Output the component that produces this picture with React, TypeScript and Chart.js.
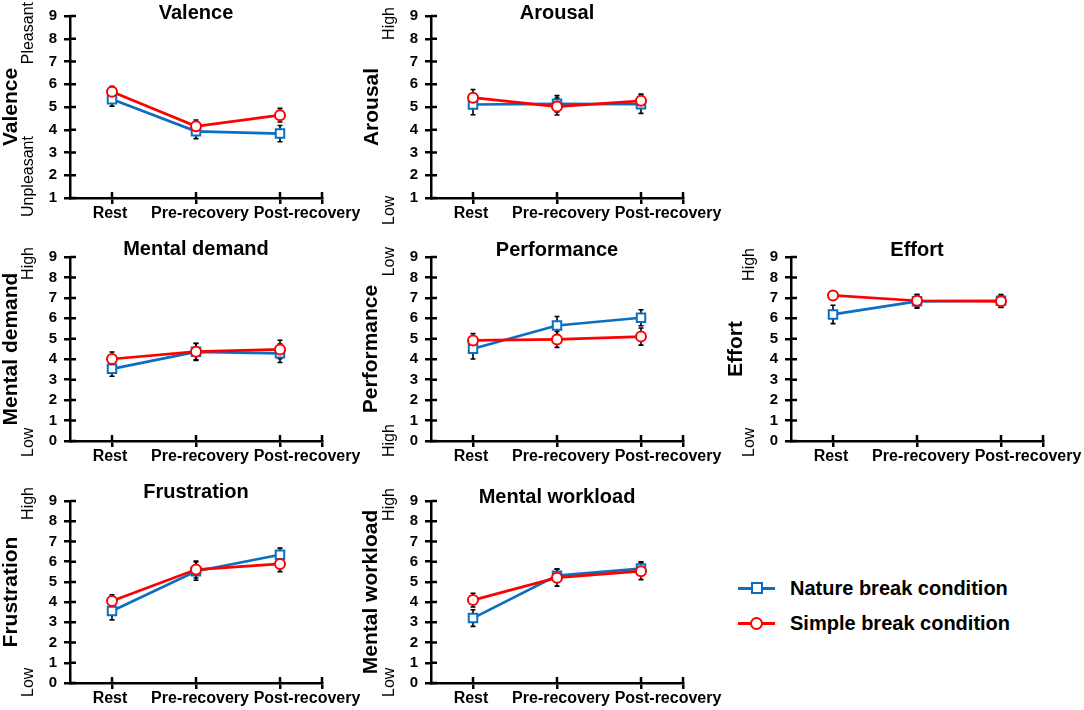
import React, { useEffect, useRef } from 'react';
import { Chart, registerables } from 'chart.js';

Chart.register(...registerables);

const FONT = '"Liberation Sans", Arial, sans-serif';
Chart.defaults.font.family = FONT;

// ---------- data ----------
const categories = ['Rest', 'Pre-recovery', 'Post-recovery'];
const seriesNames = ['Nature break condition', 'Simple break condition'];

const valenceNature = [5.34, 3.93, 3.83];
const valenceNatureErr = [0.3, 0.32, 0.36];
const valenceSimple = [5.67, 4.15, 4.64];
const valenceSimpleErr = [0.24, 0.28, 0.3];

const arousalNature = [5.11, 5.14, 5.12];
const arousalNatureErr = [0.45, 0.36, 0.4];
const arousalSimple = [5.41, 5.02, 5.27];
const arousalSimpleErr = [0.36, 0.37, 0.3];

const mentalDemandNature = [3.53, 4.36, 4.29];
const mentalDemandNatureErr = [0.36, 0.42, 0.45];
const mentalDemandSimple = [4.01, 4.37, 4.48];
const mentalDemandSimpleErr = [0.34, 0.4, 0.45];

const performanceNature = [4.51, 5.65, 6.03];
const performanceNatureErr = [0.5, 0.44, 0.39];
const performanceSimple = [4.92, 4.97, 5.11];
const performanceSimpleErr = [0.33, 0.39, 0.42];

const effortNature = [6.19, 6.83, 6.86];
const effortNatureErr = [0.45, 0.33, 0.3];
const effortSimple = [7.12, 6.86, 6.83];
const effortSimpleErr = [0.2, 0.3, 0.3];

const frustrationNature = [3.56, 5.53, 6.34];
const frustrationNatureErr = [0.44, 0.45, 0.33];
const frustrationSimple = [4.06, 5.61, 5.89];
const frustrationSimpleErr = [0.3, 0.42, 0.38];

const workloadNature = [3.21, 5.31, 5.66];
const workloadNatureErr = [0.41, 0.33, 0.33];
const workloadSimple = [4.1, 5.21, 5.53];
const workloadSimpleErr = [0.34, 0.42, 0.42];

const yMaxValue = 9;

// ---------- styles / layout ----------
const BLUE = '#0a6fc2';
const RED = '#ff0000';

const colX = [0, 360, 720];
const colW = [360, 364, 364];
const chartLeft = [70, 431, 791];
const chartW = 252;
const rowY = [0, 232, 470];
const rowH = [232, 238, 240];
const chartTop = [15, 257, 501];
const chartBottom = [198, 441, 683];
const labelOffsets = [-2, 4, 27];

type PanelDef = {
  title: string;
  nature: number[];
  natureErr: number[];
  simple: number[];
  simpleErr: number[];
  yMin: number;
  quals: [string, string];
  col: number;
  row: number;
  titleDy: number;
  yTitleDx: number;
  qTop: number;
  qBottom: number;
};

const panels: PanelDef[] = [
  { title: 'Valence', nature: valenceNature, natureErr: valenceNatureErr, simple: valenceSimple, simpleErr: valenceSimpleErr, yMin: 1, quals: ['Pleasant', 'Unpleasant'], col: 0, row: 0, titleDy: 3, yTitleDx: 53, qTop: 14, qBottom: 19 },
  { title: 'Arousal', nature: arousalNature, natureErr: arousalNatureErr, simple: arousalSimple, simpleErr: arousalSimpleErr, yMin: 1, quals: ['High', 'Low'], col: 1, row: 0, titleDy: 3, yTitleDx: 53, qTop: 9, qBottom: 27 },
  { title: 'Mental demand', nature: mentalDemandNature, natureErr: mentalDemandNatureErr, simple: mentalDemandSimple, simpleErr: mentalDemandSimpleErr, yMin: 0, quals: ['High', 'Low'], col: 0, row: 1, titleDy: -2, yTitleDx: 53, qTop: 10, qBottom: 16 },
  { title: 'Performance', nature: performanceNature, natureErr: performanceNatureErr, simple: performanceSimple, simpleErr: performanceSimpleErr, yMin: 0, quals: ['Low', 'High'], col: 1, row: 1, titleDy: -1, yTitleDx: 54, qTop: 10, qBottom: 16 },
  { title: 'Effort', nature: effortNature, natureErr: effortNatureErr, simple: effortSimple, simpleErr: effortSimpleErr, yMin: 0, quals: ['High', 'Low'], col: 2, row: 1, titleDy: -1, yTitleDx: 49, qTop: 9, qBottom: 16 },
  { title: 'Frustration', nature: frustrationNature, natureErr: frustrationNatureErr, simple: frustrationSimple, simpleErr: frustrationSimpleErr, yMin: 0, quals: ['High', 'Low'], col: 0, row: 2, titleDy: -3, yTitleDx: 53, qTop: 14, qBottom: 14 },
  { title: 'Mental workload', nature: workloadNature, natureErr: workloadNatureErr, simple: workloadSimple, simpleErr: workloadSimpleErr, yMin: 0, quals: ['High', 'Low'], col: 1, row: 2, titleDy: 2, yTitleDx: 54, qTop: 13, qBottom: 14 },
];

function Panel({ p }: { p: PanelDef }) {
  const ref = useRef<HTMLCanvasElement | null>(null);
  const cx = colX[p.col];
  const cw = colW[p.col];
  const cy = rowY[p.row];
  const ch = rowH[p.row];

  useEffect(() => {
    const canvas = ref.current;
    if (!canvas) return;
    const yAxisW = 30;
    const xAxisH = 20;
    const padLeft = chartLeft[p.col] - cx - yAxisW;
    const padRight = cx + cw - (chartLeft[p.col] + chartW);
    const padTop = chartTop[p.row] - cy;
    const padBottom = ch - (chartBottom[p.row] - cy) - xAxisH;
    const errs = [p.simpleErr, p.natureErr];

    const deco = {
      id: 'panelDeco',
      beforeDatasetsDraw(chart: any) {
        const ctx = chart.ctx;
        const ca = chart.chartArea;
        const xs = chart.scales.x;
        const ys = chart.scales.y;
        ctx.save();
        ctx.strokeStyle = '#000';
        ctx.lineWidth = 2.5;
        ctx.beginPath();
        ys.ticks.forEach((t: any) => {
          const py = ys.getPixelForValue(t.value);
          ctx.moveTo(ca.left, py);
          ctx.lineTo(ca.left + 6, py);
        });
        xs.ticks.forEach((t: any) => {
          const px = xs.getPixelForValue(t.value);
          ctx.moveTo(px, ca.bottom);
          ctx.lineTo(px, ca.bottom - 6);
        });
        ctx.stroke();
        // error bars
        ctx.lineWidth = 1.6;
        chart.data.datasets.forEach((ds: any, i: number) => {
          const meta = chart.getDatasetMeta(i);
          const e = errs[i];
          meta.data.forEach((pt: any, j: number) => {
            const v = ds.data[j].y;
            const y1 = ys.getPixelForValue(v + e[j]);
            const y2 = ys.getPixelForValue(v - e[j]);
            const x = pt.x;
            ctx.beginPath();
            ctx.moveTo(x, y1);
            ctx.lineTo(x, y2);
            ctx.moveTo(x - 2.5, y1);
            ctx.lineTo(x + 2.5, y1);
            ctx.moveTo(x - 2.5, y2);
            ctx.lineTo(x + 2.5, y2);
            ctx.stroke();
          });
        });
        ctx.restore();
      },
      afterDraw(chart: any) {
        const ctx = chart.ctx;
        const ca = chart.chartArea;
        const xs = chart.scales.x;
        ctx.save();
        ctx.fillStyle = '#000';
        // category labels
        ctx.font = `bold 16px ${FONT}`;
        ctx.textAlign = 'center';
        ctx.textBaseline = 'alphabetic';
        categories.forEach((c, i) => {
          ctx.fillText(c, xs.getPixelForValue(i + 0.5) + labelOffsets[i], ca.bottom + 20);
        });
        // title
        ctx.font = `bold 20px ${FONT}`;
        ctx.fillText(p.title, xs.getPixelForValue(1.5), ca.top + p.titleDy);
        // y title
        ctx.save();
        ctx.translate(ca.left - p.yTitleDx, (ca.top + ca.bottom) / 2);
        ctx.rotate(-Math.PI / 2);
        ctx.font = `bold 21px ${FONT}`;
        ctx.textAlign = 'center';
        ctx.fillText(p.title, 0, 0);
        ctx.restore();
        // qualifiers
        ctx.font = `16px ${FONT}`;
        ctx.textBaseline = 'middle';
        ctx.save();
        ctx.translate(ca.left - 41, ca.top - p.qTop);
        ctx.rotate(-Math.PI / 2);
        ctx.textAlign = 'right';
        ctx.fillText(p.quals[0], 0, 0);
        ctx.restore();
        ctx.save();
        ctx.translate(ca.left - 41, ca.bottom + p.qBottom);
        ctx.rotate(-Math.PI / 2);
        ctx.textAlign = 'left';
        ctx.fillText(p.quals[1], 0, 0);
        ctx.restore();
        ctx.restore();
      },
    };

    const toPts = (vals: number[]) => vals.map((v, i) => ({ x: i + 0.5, y: v }));

    const chart = new Chart(canvas, {
      type: 'line',
      data: {
        datasets: [
          {
            label: seriesNames[1],
            data: toPts(p.simple),
            borderColor: RED,
            backgroundColor: '#fff',
            pointBackgroundColor: '#fff',
            pointBorderColor: RED,
            pointStyle: 'circle',
            pointRadius: 5,
            pointBorderWidth: 2,
            borderWidth: 2.7,
            order: 1,
          },
          {
            label: seriesNames[0],
            data: toPts(p.nature),
            borderColor: BLUE,
            backgroundColor: '#fff',
            pointBackgroundColor: '#fff',
            pointBorderColor: BLUE,
            pointStyle: 'rect',
            pointRadius: 6,
            pointBorderWidth: 2,
            borderWidth: 2.7,
            order: 2,
          },
        ],
      },
      options: {
        animation: false,
        responsive: false,
        events: [],
        layout: { padding: { left: padLeft, right: padRight, top: padTop, bottom: padBottom } },
        plugins: { legend: { display: false }, tooltip: { enabled: false } },
        scales: {
          x: {
            type: 'linear',
            min: 0,
            max: 3,
            afterBuildTicks: (axis: any) => {
              axis.ticks = [0.5, 1.5, 2.5, 3].map((v) => ({ value: v }));
            },
            afterFit: (s: any) => {
              s.height = xAxisH;
            },
            ticks: { display: false },
            grid: { drawOnChartArea: false, drawTicks: true, tickLength: 6, color: '#000', lineWidth: 2.5 },
            border: { display: true, color: '#000', width: 2.5 },
          },
          y: {
            type: 'linear',
            min: p.yMin,
            max: yMaxValue,
            afterFit: (s: any) => {
              s.width = yAxisW;
            },
            ticks: { stepSize: 1, autoSkip: false, color: '#000', padding: 7, font: { size: 15, weight: 'bold', family: FONT } },
            grid: { drawOnChartArea: false, drawTicks: true, tickLength: 6, color: '#000', lineWidth: 2.5 },
            border: { display: true, color: '#000', width: 2.5 },
          },
        },
      },
      plugins: [deco],
    } as any);
    return () => chart.destroy();
  }, [p]);

  return (
    <canvas
      ref={ref}
      width={cw}
      height={ch}
      style={{ position: 'absolute', left: cx, top: cy, width: cw, height: ch }}
    />
  );
}

function LegendRow({ name, color, shape, y }: { name: string; color: string; shape: 'rect' | 'circle'; y: number }) {
  const size = shape === 'rect' ? 12 : 13;
  return (
    <div style={{ position: 'absolute', left: 738, top: y - 14, height: 28, display: 'flex', alignItems: 'center' }}>
      <div style={{ position: 'relative', width: 37, height: 28 }}>
        <div style={{ position: 'absolute', left: 0, top: 13, width: 37, height: 2.5, background: color }} />
        <div
          style={{
            position: 'absolute',
            left: 18.5 - size / 2,
            top: 14 - size / 2,
            width: size,
            height: size,
            boxSizing: 'border-box',
            border: `2px solid ${color}`,
            borderRadius: shape === 'circle' ? '50%' : 0,
            background: '#fff',
          }}
        />
      </div>
      <span style={{ marginLeft: 15, font: `bold 20px ${FONT}`, color: '#000', whiteSpace: 'nowrap' }}>{name}</span>
    </div>
  );
}

export default function App() {
  return (
    <div style={{ position: 'absolute', left: 0, top: 0, width: 1084, height: 710, background: '#fff', overflow: 'hidden' }}>
      {panels.map((p) => (
        <Panel key={p.title} p={p} />
      ))}
      <LegendRow name={seriesNames[0]} color={BLUE} shape="rect" y={588} />
      <LegendRow name={seriesNames[1]} color={RED} shape="circle" y={623} />
    </div>
  );
}
